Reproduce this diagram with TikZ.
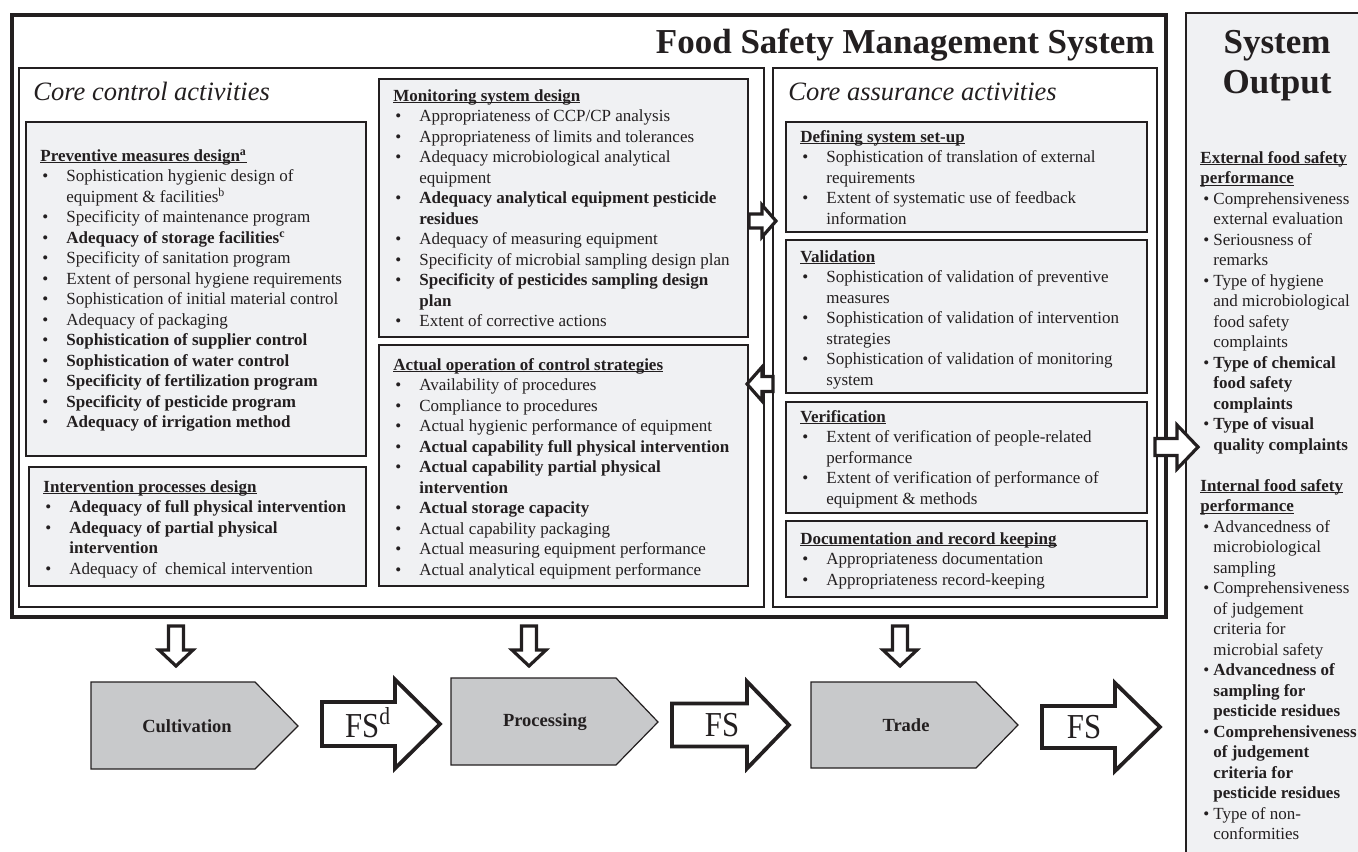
\documentclass[tikz,border=0pt]{standalone}
\usepackage{fontspec}
\setmainfont{Liberation Serif}
\usetikzlibrary{fit}
\definecolor{ink}{HTML}{231F20}
\definecolor{boxfill}{HTML}{F0F1F3}
\definecolor{pentfill}{HTML}{C8C9CB}
\newcommand{\hd}[1]{\setbox0\hbox{\textbf{#1}}\rlap{\rule[-1.2pt]{\wd0}{0.6pt}}\box0}
\newcommand{\bl}[1]{\hspace*{1pt}\makebox[12pt][l]{•}#1}
\newcommand{\cl}[1]{\hspace*{13pt}#1}
\newcommand{\bs}[1]{\hspace*{1.5pt}\makebox[5pt][l]{•}#1}
\newcommand{\cs}[1]{\hspace*{6.5pt}#1}
\newcommand{\rarrow}[7]{\draw[#7] (#1,#4-#5) -- (#2,#4-#5) -- (#2,#4-#6) -- (#3,#4) -- (#2,#4+#6) -- (#2,#4+#5) -- (#1,#4+#5) -- cycle;}
\newcommand{\darrow}[7]{\draw[#7] (#1-#5,#2) -- (#1+#5,#2) -- (#1+#5,#3) -- (#1+#6,#3) -- (#1,#4) -- (#1-#6,#3) -- (#1-#5,#3) -- cycle;}
\tikzset{
  body/.style={inner sep=0, text=ink, font=\fontsize{8.5pt}{10.25pt}\selectfont},
  gbox/.style={draw=ink, line width=0.75pt, fill=boxfill, inner sep=0},
  wbox/.style={draw=ink, line width=0.7pt, fill=white, inner sep=0},
  italtitle/.style={inner sep=0, text=ink, font=\fontsize{13.25pt}{15pt}\selectfont\itshape},
  bigtitle/.style={inner sep=0, text=ink, font=\fontsize{17.5pt}{20pt}\selectfont\bfseries},
  smallarrow/.style={draw=ink, line width=1.6pt, fill=white, line join=miter},
  fsarrow/.style={draw=ink, line width=1.9pt, fill=white, line join=miter},
  pent/.style={draw=ink, line width=0.6pt, fill=pentfill},
  pentlabel/.style={inner sep=0, text=ink, font=\fontsize{9.25pt}{11pt}\selectfont\bfseries},
  fslabel/.style={inner sep=0, text=ink, font=\fontsize{17.5pt}{18pt}\selectfont}
}
\begin{document}
\begin{tikzpicture}[x=0.5pt,y=-0.5pt]
\useasboundingbox (0,0) rectangle (1358,851);
\clip (0,0) rectangle (1358,851);

% System output box
\fill[boxfill] (1186,13) rectangle (1362,855);
\draw[ink, line width=1pt] (1186,855) -- (1186,13) -- (1362,13);
\node[bigtitle, anchor=base] (sys1) at (1277,53) {System};
\node[bigtitle, anchor=base] (sys2) at (1277,93) {Output};

% FSMS outer box
\node[draw=ink, line width=2pt, fill=white, inner sep=0, fit={(11.5,14.5) (1166,617)}] (fsms) {};
\node[bigtitle, anchor=base east] (fsmstitle) at (1155,53) {Food Safety Management System};

% core boxes
\node[wbox, fit={(19,68) (764,607)}] (ccbox) {};
\node[wbox, fit={(773,68) (1157,607)}] (cabox) {};
\node[italtitle, anchor=base west] (cctitle) at (33,100) {Core control activities};
\node[italtitle, anchor=base west] (catitle) at (788,100) {Core assurance activities};

% inner grey boxes
\node[gbox, fit={(26,122) (366,456)}] (prevbox) {};
\node[gbox, fit={(29,467) (366,586)}] (intbox) {};
\node[gbox, fit={(379,79) (748,337)}] (monbox) {};
\node[gbox, fit={(379,345) (748,586)}] (actbox) {};
\node[gbox, fit={(786,122) (1147,232)}] (defbox) {};
\node[gbox, fit={(786,240) (1147,393)}] (valbox) {};
\node[gbox, fit={(786,402) (1147,513)}] (verbox) {};
\node[gbox, fit={(786,521) (1147,597)}] (docbox) {};

\node[body, anchor=base west] (prevtxt) at (40,161) {\begin{tabular}[t]{@{}l@{}}
\hd{Preventive measures design\textsuperscript{a}}\\
\bl{Sophistication hygienic design of}\\
\cl{equipment \& facilities\textsuperscript{b}}\\
\bl{Specificity of maintenance program}\\
\bl{\textbf{Adequacy of storage facilities\textsuperscript{c}}}\\
\bl{Specificity of sanitation program}\\
\bl{Extent of personal hygiene requirements}\\
\bl{Sophistication of initial material control}\\
\bl{Adequacy of packaging}\\
\bl{\textbf{Sophistication of supplier control}}\\
\bl{\textbf{Sophistication of water control}}\\
\bl{\textbf{Specificity of fertilization program}}\\
\bl{\textbf{Specificity of pesticide program}}\\
\bl{\textbf{Adequacy of irrigation method}}
\end{tabular}};

\node[body, anchor=base west] (inttxt) at (43,492) {\begin{tabular}[t]{@{}l@{}}
\hd{Intervention processes design}\\
\bl{\textbf{Adequacy of full physical intervention}}\\
\bl{\textbf{Adequacy of partial physical}}\\
\cl{\textbf{intervention}}\\
\bl{Adequacy of\ \ chemical intervention}
\end{tabular}};

\node[body, anchor=base west] (montxt) at (393,101) {\begin{tabular}[t]{@{}l@{}}
\hd{Monitoring system design}\\
\bl{Appropriateness of CCP/CP analysis}\\
\bl{Appropriateness of limits and tolerances}\\
\bl{Adequacy microbiological analytical}\\
\cl{equipment}\\
\bl{\textbf{Adequacy analytical equipment pesticide}}\\
\cl{\textbf{residues}}\\
\bl{Adequacy of measuring equipment}\\
\bl{Specificity of microbial sampling design plan}\\
\bl{\textbf{Specificity of pesticides sampling design}}\\
\cl{\textbf{plan}}\\
\bl{Extent of corrective actions}
\end{tabular}};

\node[body, anchor=base west] (acttxt) at (393,370) {\begin{tabular}[t]{@{}l@{}}
\hd{Actual operation of control strategies}\\
\bl{Availability of procedures}\\
\bl{Compliance to procedures}\\
\bl{Actual hygienic performance of equipment}\\
\bl{\textbf{Actual capability full physical intervention}}\\
\bl{\textbf{Actual capability partial physical}}\\
\cl{\textbf{intervention}}\\
\bl{\textbf{Actual storage capacity}}\\
\bl{Actual capability packaging}\\
\bl{Actual measuring equipment performance}\\
\bl{Actual analytical equipment performance}
\end{tabular}};

\node[body, anchor=base west] (deftxt) at (800,142) {\begin{tabular}[t]{@{}l@{}}
\hd{Defining system set-up}\\
\bl{Sophistication of translation of external}\\
\cl{requirements}\\
\bl{Extent of systematic use of feedback}\\
\cl{information}
\end{tabular}};

\node[body, anchor=base west] (valtxt) at (800,262) {\begin{tabular}[t]{@{}l@{}}
\hd{Validation}\\
\bl{Sophistication of validation of preventive}\\
\cl{measures}\\
\bl{Sophistication of validation of intervention}\\
\cl{strategies}\\
\bl{Sophistication of validation of monitoring}\\
\cl{system}
\end{tabular}};

\node[body, anchor=base west] (vertxt) at (800,422) {\begin{tabular}[t]{@{}l@{}}
\hd{Verification}\\
\bl{Extent of verification of people-related}\\
\cl{performance}\\
\bl{Extent of verification of performance of}\\
\cl{equipment \& methods}
\end{tabular}};

\node[body, anchor=base west] (doctxt) at (800,544) {\begin{tabular}[t]{@{}l@{}}
\hd{Documentation and record keeping}\\
\bl{Appropriateness documentation}\\
\bl{Appropriateness record-keeping}
\end{tabular}};

\node[body, anchor=base west] (outtxt) at (1200,163) {\begin{tabular}[t]{@{}l@{}}
\hd{External food safety}\\
\hd{performance}\\
\bs{Comprehensiveness}\\
\cs{external evaluation}\\
\bs{Seriousness of}\\
\cs{remarks}\\
\bs{Type of hygiene}\\
\cs{and microbiological}\\
\cs{food safety}\\
\cs{complaints}\\
\bs{\textbf{Type of chemical}}\\
\cs{\textbf{food safety}}\\
\cs{\textbf{complaints}}\\
\bs{\textbf{Type of visual}}\\
\cs{\textbf{quality complaints}}\\
\\
\hd{Internal food safety}\\
\hd{performance}\\
\bs{Advancedness of}\\
\cs{microbiological}\\
\cs{sampling}\\
\bs{Comprehensiveness}\\
\cs{of judgement}\\
\cs{criteria for}\\
\cs{microbial safety}\\
\bs{\textbf{Advancedness of}}\\
\cs{\textbf{sampling for}}\\
\cs{\textbf{pesticide residues}}\\
\bs{\textbf{Comprehensiveness}}\\
\cs{\textbf{of judgement}}\\
\cs{\textbf{criteria for}}\\
\cs{\textbf{pesticide residues}}\\
\bs{Type of non-}\\
\cs{conformities}
\end{tabular}};

% block arrows inside FSMS
\rarrow{749}{762}{776}{221}{7}{16}{smallarrow}
\rarrow{773}{762}{747}{384}{7.5}{17}{smallarrow}
\rarrow{1155}{1177}{1198}{447}{8.5}{22}{smallarrow}

% down arrows
\darrow{176}{626}{650}{666}{7.5}{17}{smallarrow}
\darrow{529}{626}{650}{666}{7.5}{17}{smallarrow}
\darrow{900}{626}{650}{666}{7.5}{17}{smallarrow}

% chain
\draw[pent] (91,682) -- (255,682) -- (298,726) -- (255,769) -- (91,769) -- cycle;
\node[pentlabel] (cult) at (187,726) {Cultivation};
\rarrow{322}{395}{440}{724}{22}{44.5}{fsarrow}
\node[fslabel, anchor=base] (fs1) at (368,737) {\scalebox{0.88}[1]{FS\textsuperscript{d}}};
\draw[pent] (451,678) -- (616,678) -- (658,722) -- (616,765) -- (451,765) -- cycle;
\node[pentlabel] (proc) at (545,722) {Processing};
\rarrow{672}{747}{789}{725}{21.5}{43.5}{fsarrow}
\node[fslabel, anchor=base] (fs2) at (722,736) {\scalebox{0.88}[1]{FS}};
\draw[pent] (811,682) -- (976,682) -- (1018,725) -- (976,768) -- (811,768) -- cycle;
\node[pentlabel] (trade) at (906,725) {Trade};
\rarrow{1042}{1115}{1160}{727}{21}{44}{fsarrow}
\node[fslabel, anchor=base] (fs3) at (1084,738) {\scalebox{0.88}[1]{FS}};
\end{tikzpicture}
\end{document}
